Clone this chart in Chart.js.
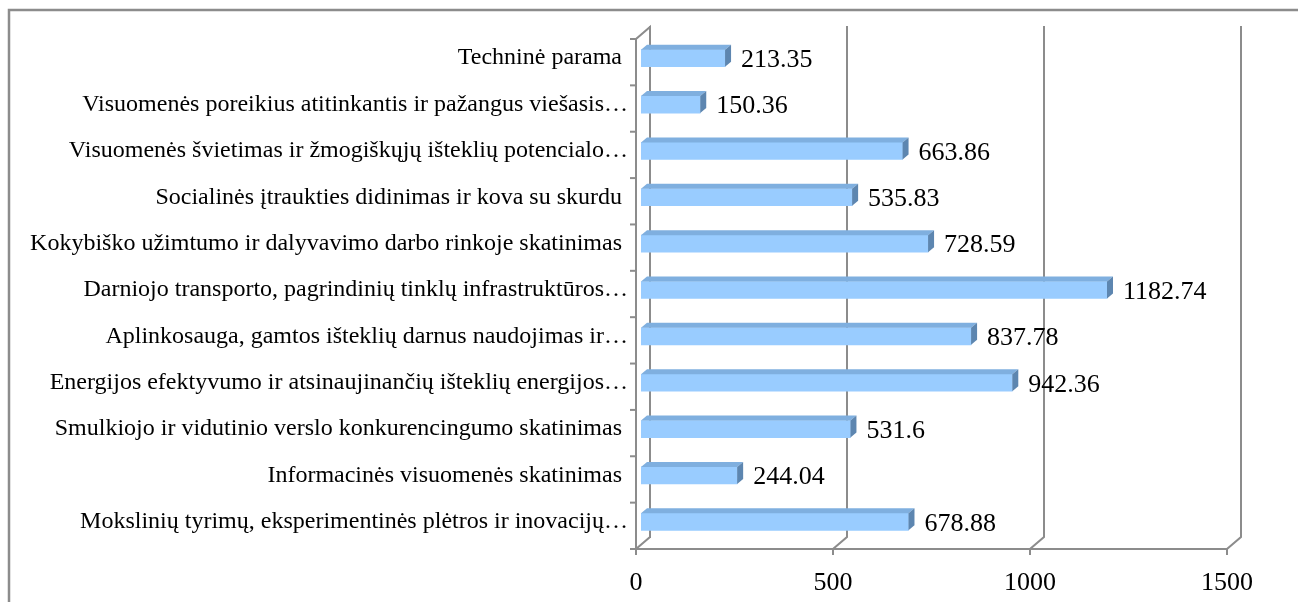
<!DOCTYPE html>
<html>
<head>
<meta charset="utf-8">
<title>Lėšų paskirstymas pagal prioritetus</title>
<script src="https://cdn.jsdelivr.net/npm/chart.js@4"></script>
<style>
    body { margin: 0; background: #ffffff; }
    canvas { display: block; }
</style>
</head>
<body>
<canvas id="barChart" width="1298" height="602"></canvas>
<script>
// Categories, top to bottom as in the picture
const categories = [
    "Techninė parama ",
    "Visuomenės poreikius atitinkantis ir pažangus viešasis…",
    "Visuomenės švietimas ir žmogiškųjų išteklių potencialo…",
    "Socialinės įtraukties didinimas ir kova su skurdu ",
    "Kokybiško užimtumo ir dalyvavimo darbo rinkoje skatinimas ",
    "Darniojo transporto, pagrindinių tinklų infrastruktūros…",
    "Aplinkosauga, gamtos išteklių darnus naudojimas ir…",
    "Energijos efektyvumo ir atsinaujinančių išteklių energijos…",
    "Smulkiojo ir vidutinio verslo konkurencingumo skatinimas ",
    "Informacinės visuomenės skatinimas ",
    "Mokslinių tyrimų, eksperimentinės plėtros ir inovacijų…"
];
const values = [213.35, 150.36, 663.86, 535.83, 728.59, 1182.74, 837.78, 942.36, 531.6, 244.04, 678.88];
const xTicks = [0, 500, 1000, 1500];

const SERIF = '"Liberation Serif", "Times New Roman", serif';
const LINE = "#8c8c8c";

// outer frame + 3D walls drawn from the scales
const framePlugin = {
    id: "frame3d",
    beforeDraw(chart) {
        const ctx = chart.ctx;
        ctx.save();
        ctx.strokeStyle = LINE;
        ctx.lineWidth = 2.5;
        ctx.beginPath();
        ctx.moveTo(9, chart.height);
        ctx.lineTo(9, 10);
        ctx.lineTo(chart.width, 10);
        ctx.stroke();
        ctx.restore();
    },
    beforeDatasetsDraw(chart) {
        const ctx = chart.ctx;
        const xs = chart.scales.x;
        const ys = chart.scales.y;
        const { left, top, bottom } = chart.chartArea;
        const fdx = -5, fdy = 4, bdx = 9, bdy = -8;

        ctx.save();
        ctx.strokeStyle = LINE;
        ctx.lineWidth = 2;
        ctx.lineCap = "square";

        // left wall
        ctx.beginPath();
        ctx.moveTo(left + fdx, bottom + fdy);
        ctx.lineTo(left + fdx, top + fdy);
        ctx.lineTo(left + bdx, top + bdy);
        ctx.lineTo(left + bdx, bottom + bdy);
        ctx.stroke();

        // category ticks
        for (let k = 0; k <= categories.length; k++) {
            const y = ys.getPixelForValue(k - 0.5) + fdy;
            ctx.beginPath();
            ctx.moveTo(left + fdx - 5, y);
            ctx.lineTo(left + fdx, y);
            ctx.stroke();
        }

        // floor front edge
        ctx.beginPath();
        ctx.moveTo(xs.getPixelForValue(xTicks[0]) + fdx, bottom + fdy);
        ctx.lineTo(xs.getPixelForValue(xTicks[xTicks.length - 1]) + fdx, bottom + fdy);
        ctx.stroke();

        // gridlines on back wall
        xTicks.forEach(v => {
            const x = xs.getPixelForValue(v);
            ctx.beginPath();
            ctx.moveTo(x + fdx, bottom + fdy + 5);
            ctx.lineTo(x + fdx, bottom + fdy);
            ctx.lineTo(x + bdx, bottom + bdy);
            ctx.lineTo(x + bdx, top + bdy);
            ctx.stroke();
        });
        ctx.restore();
    },
    afterDatasetsDraw(chart) {
        const ctx = chart.ctx;
        const meta = chart.getDatasetMeta(0);
        const dx = 6, dy = -5;
        ctx.save();
        meta.data.forEach((bar, i) => {
            const h = bar.height / 2;
            const x0 = bar.base, x1 = bar.x;
            const yt = bar.y - h, yb = bar.y + h;

            // top face
            ctx.fillStyle = "#7fafdf";
            ctx.beginPath();
            ctx.moveTo(x0, yt);
            ctx.lineTo(x0 + dx, yt + dy);
            ctx.lineTo(x1 + dx, yt + dy);
            ctx.lineTo(x1, yt);
            ctx.closePath();
            ctx.fill();

            // side face
            ctx.fillStyle = "#5d86b0";
            ctx.beginPath();
            ctx.moveTo(x1, yt);
            ctx.lineTo(x1 + dx, yt + dy);
            ctx.lineTo(x1 + dx, yb + dy);
            ctx.lineTo(x1, yb);
            ctx.closePath();
            ctx.fill();

            // value label
            ctx.fillStyle = "#000000";
            ctx.font = "26px " + SERIF;
            ctx.textAlign = "left";
            ctx.textBaseline = "middle";
            ctx.fillText(String(values[i]), x1 + dx + 10, bar.y + 2);
        });
        ctx.restore();
    }
};

new Chart(document.getElementById("barChart"), {
    type: "bar",
    data: {
        labels: categories,
        datasets: [{
            data: values,
            backgroundColor: "#99ccff",
            borderWidth: 0,
            barThickness: 17
        }]
    },
    options: {
        indexAxis: "y",
        responsive: false,
        animation: false,
        layout: { padding: { top: 35, right: 66, left: 0, bottom: 0 } },
        plugins: {
            legend: { display: false },
            tooltip: { enabled: false }
        },
        scales: {
            x: {
                min: 0,
                max: 1500,
                afterBuildTicks: scale => { scale.ticks = xTicks.map(v => ({ value: v })); },
                afterFit: scale => { scale.height = 57; },
                grid: { display: false, drawTicks: false },
                border: { display: false },
                ticks: {
                    color: "#000000",
                    font: { family: SERIF, size: 26 },
                    padding: 23,
                    labelOffset: -5,
                    maxRotation: 0,
                    callback: v => String(v)
                }
            },
            y: {
                afterFit: scale => { scale.width = 641; },
                grid: { display: false, drawTicks: false },
                border: { display: false },
                ticks: {
                    color: "#000000",
                    font: { family: SERIF, size: 24 },
                    padding: 13,
                    autoSkip: false
                }
            }
        }
    },
    plugins: [framePlugin]
});
</script>
</body>
</html>
